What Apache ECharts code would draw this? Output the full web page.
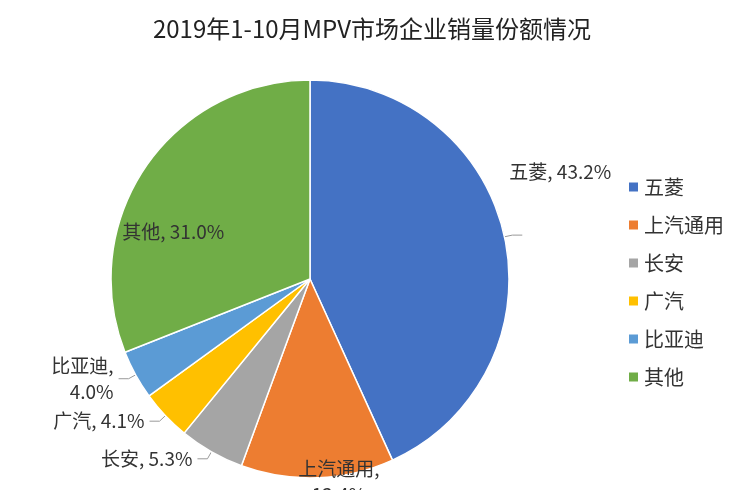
<!DOCTYPE html>
<html><head><meta charset="utf-8">
<script src="https://cdn.jsdelivr.net/npm/echarts@6/dist/echarts.min.js"></script>
<style>html,body{margin:0;padding:0;background:#fff}#c{width:744px;height:490px}</style>
</head><body><div id="c"></div>
<script>
const categories = ['五菱','上汽通用','长安','广汽','比亚迪','其他'];
const values = [43.2, 12.4, 5.3, 4.1, 4.0, 31.0];
const colors = ['#4472C4','#ED7D31','#A5A5A5','#FFC000','#5B9BD5','#70AD47'];
const font = '"Noto Sans CJK SC", "Noto Sans", sans-serif';
const chart = echarts.init(document.getElementById('c'));
const fmt = p => p.name + ', ' + p.value.toFixed(1) + '%';
const fmt2 = p => p.name + ',\n' + p.value.toFixed(1) + '%';
const data = categories.map((n,i)=>{
  const d = {name:n, value:values[i], itemStyle:{color:colors[i]}};
  if (i===1 || i===5) d.label = {position:'inside'};
  if (i===1) d.label.formatter = fmt2;
  if (i===4) d.label = {formatter:fmt2, align:'left'};
  return d;
});
chart.setOption({
  animation:false,
  title:{text:'2019年1-10月MPV市场企业销量份额情况', left:'center', top:12,
    textStyle:{fontFamily:font, fontSize:24, fontWeight:'normal', color:'#222'}},
  legend:{orient:'vertical', left:622, top:172, itemGap:18, itemWidth:11, itemHeight:11,
    icon:'rect', data:categories, textStyle:{fontFamily:font, fontSize:20, color:'#333'}},
  series:[{type:'pie', center:[310,279], radius:199, startAngle:90, clockwise:true,
    itemStyle:{borderColor:'#fff', borderWidth:1.5},
    label:{fontFamily:font, fontSize:19, color:'#333', formatter:fmt, lineHeight:26},
    labelLine:{show:true, length:8, length2:10, lineStyle:{color:'#999'}},
    labelLayout:function(p){
      if(p.dataIndex===0) return {dx:-18, dy:-63};
      if(p.dataIndex===1) return {dx:25, dy:100};
      if(p.dataIndex===5) return {dx:-52, dy:10};
    },
    data:data}]
});
</script></body></html>
